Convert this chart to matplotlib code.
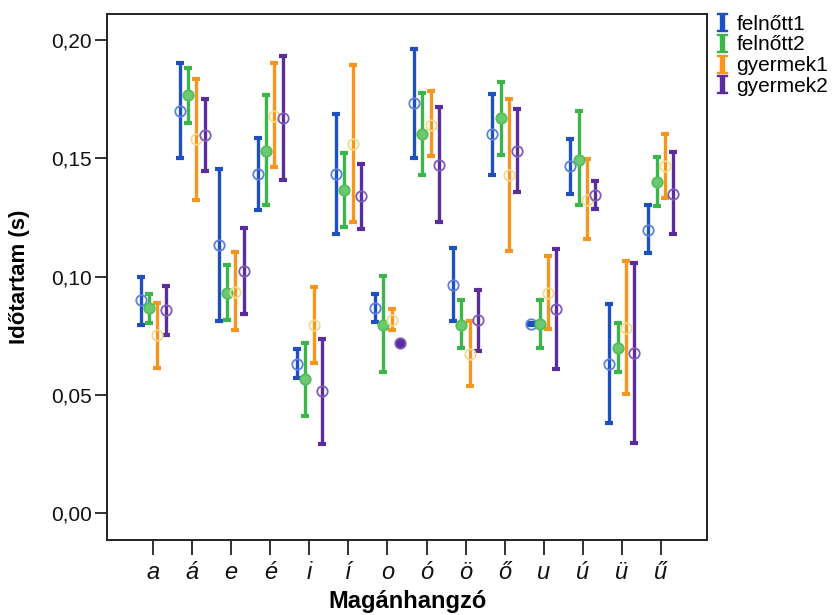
import matplotlib
matplotlib.use('Agg')
import matplotlib.pyplot as plt
from matplotlib.lines import Line2D
import numpy as np

plt.rcParams['font.family'] = ['Liberation Sans', 'DejaVu Sans']
plt.rcParams['mathtext.fontset'] = 'dejavuserif'

vowels = ['a', 'á', 'e', 'é', 'i', 'í', 'o', 'ó', 'ö', 'ő', 'u', 'ú', 'ü', 'ű']
series_names = ['felnőtt1', 'felnőtt2', 'gyermek1', 'gyermek2']

felnott1_mean = [0.0899, 0.1700, 0.1132, 0.1432, 0.0632, 0.1432, 0.0866, 0.1734, 0.0965, 0.1601, 0.0800, 0.1466, 0.0631, 0.1197]
felnott1_low  = [0.0797, 0.1500, 0.0811, 0.1280, 0.0572, 0.1180, 0.0809, 0.1500, 0.0811, 0.1428, 0.0797, 0.1350, 0.0379, 0.1099]
felnott1_high = [0.0999, 0.1904, 0.1453, 0.1587, 0.0692, 0.1688, 0.0926, 0.1963, 0.1119, 0.1773, 0.0803, 0.1584, 0.0885, 0.1302]

felnott2_mean = [0.0866, 0.1766, 0.0931, 0.1533, 0.0565, 0.1366, 0.0797, 0.1601, 0.0797, 0.1669, 0.0800, 0.1494, 0.0699, 0.1400]
felnott2_low  = [0.0804, 0.1650, 0.0816, 0.1302, 0.0412, 0.1208, 0.0597, 0.1428, 0.0696, 0.1513, 0.0699, 0.1301, 0.0597, 0.1299]
felnott2_high = [0.0927, 0.1883, 0.1051, 0.1768, 0.0720, 0.1523, 0.1002, 0.1778, 0.0903, 0.1823, 0.0903, 0.1702, 0.0802, 0.1505]

gyermek1_mean = [0.0751, 0.1580, 0.0934, 0.1681, 0.0794, 0.1559, 0.0818, 0.1643, 0.0673, 0.1428, 0.0931, 0.1326, 0.0783, 0.1467]
gyermek1_low  = [0.0614, 0.1322, 0.0772, 0.1464, 0.0635, 0.1229, 0.0772, 0.1509, 0.0536, 0.1107, 0.0779, 0.1159, 0.0504, 0.1333]
gyermek1_high = [0.0889, 0.1836, 0.1103, 0.1904, 0.0955, 0.1895, 0.0864, 0.1785, 0.0811, 0.1749, 0.1086, 0.1498, 0.1065, 0.1601]

gyermek2_mean = [0.0857, 0.1597, 0.1023, 0.1672, 0.0514, 0.1340, 0.0720, 0.1474, 0.0815, 0.1533, 0.0861, 0.1343, 0.0675, 0.1351]
gyermek2_low  = [0.0755, 0.1448, 0.0843, 0.1409, 0.0293, 0.1201, 0.0720, 0.1229, 0.0684, 0.1357, 0.0610, 0.1284, 0.0297, 0.1180]
gyermek2_high = [0.0962, 0.1749, 0.1205, 0.1935, 0.0737, 0.1478, 0.0720, 0.1719, 0.0945, 0.1707, 0.1115, 0.1404, 0.1058, 0.1526]

means = [felnott1_mean, felnott2_mean, gyermek1_mean, gyermek2_mean]
lows = [felnott1_low, felnott2_low, gyermek1_low, gyermek2_low]
highs = [felnott1_high, felnott2_high, gyermek1_high, gyermek2_high]

bar_colors = ['#1f50c0', '#3cb64a', '#f7961e', '#5a2c9c']
marker_edges = ['#5f80dc', '#52bf5a', '#f0dc90', '#7e5cbc']
marker_faces = ['none', '#6cc972', 'none', 'none']
offsets = [-0.32, -0.107, 0.107, 0.32]

fig = plt.figure(figsize=(8.4, 6.15), dpi=100)
ax = fig.add_axes([0.1274, 0.122, 0.7143, 0.855])

x = np.arange(len(vowels))
for i in range(4):
    m = np.array(means[i]); lo = np.array(lows[i]); hi = np.array(highs[i])
    xs = x + offsets[i]
    ax.errorbar(xs, m, yerr=[m - lo, hi - m], fmt='none', ecolor=bar_colors[i],
                elinewidth=2.4, capsize=2.6, capthick=3.0, zorder=2)
    single = (hi - lo) < 0.0005
    ax.plot(xs[~single], m[~single], 'o', ms=7.5, mfc=marker_faces[i],
            mec=marker_edges[i], mew=1.3, linestyle='none', zorder=3)
    if single.any():
        ax.plot(xs[single], m[single], 'o', ms=7.5, mfc=bar_colors[i],
                mec=marker_edges[i], mew=1.3, linestyle='none', zorder=3)

ax.set_xlim(-1.18, 14.18)
ax.set_ylim(-0.0114, 0.211)
ax.set_yticks([0.0, 0.05, 0.10, 0.15, 0.20])
ax.set_yticklabels(['0,00', '0,05', '0,10', '0,15', '0,20'], fontsize=15)
ax.set_xticks(x)
ax.set_xticklabels(vowels, fontsize=17, style='italic')
ax.tick_params(axis='both', direction='out', length=9, width=1.3, colors='#222222')
ax.tick_params(axis='x', length=10.5, pad=5)
ax.tick_params(axis='y', pad=2)
for t in ax.get_xticklabels() + ax.get_yticklabels():
    t.set_color('#111111')
for s in ax.spines.values():
    s.set_linewidth(1.4)
    s.set_color('#222222')

ax.set_xlabel('Magánhangzó', fontsize=17, fontweight='bold')
ax.xaxis.set_label_coords(0.5, -0.096)
ax.set_ylabel('Időtartam (s)', fontsize=16, fontweight='bold', labelpad=15)

handles = [Line2D([], [], linestyle='none', marker=r'$\mathbf{I}$', markersize=13,
                  color=c, mec=c) for c in bar_colors]
fig.legend(handles, series_names, loc='upper left', bbox_to_anchor=(0.832, 1.0),
           frameon=False, fontsize=15, handlelength=0.8, handletextpad=0.3,
           labelspacing=0.08, borderaxespad=0.3)

fig.savefig('out.png', dpi=100)
